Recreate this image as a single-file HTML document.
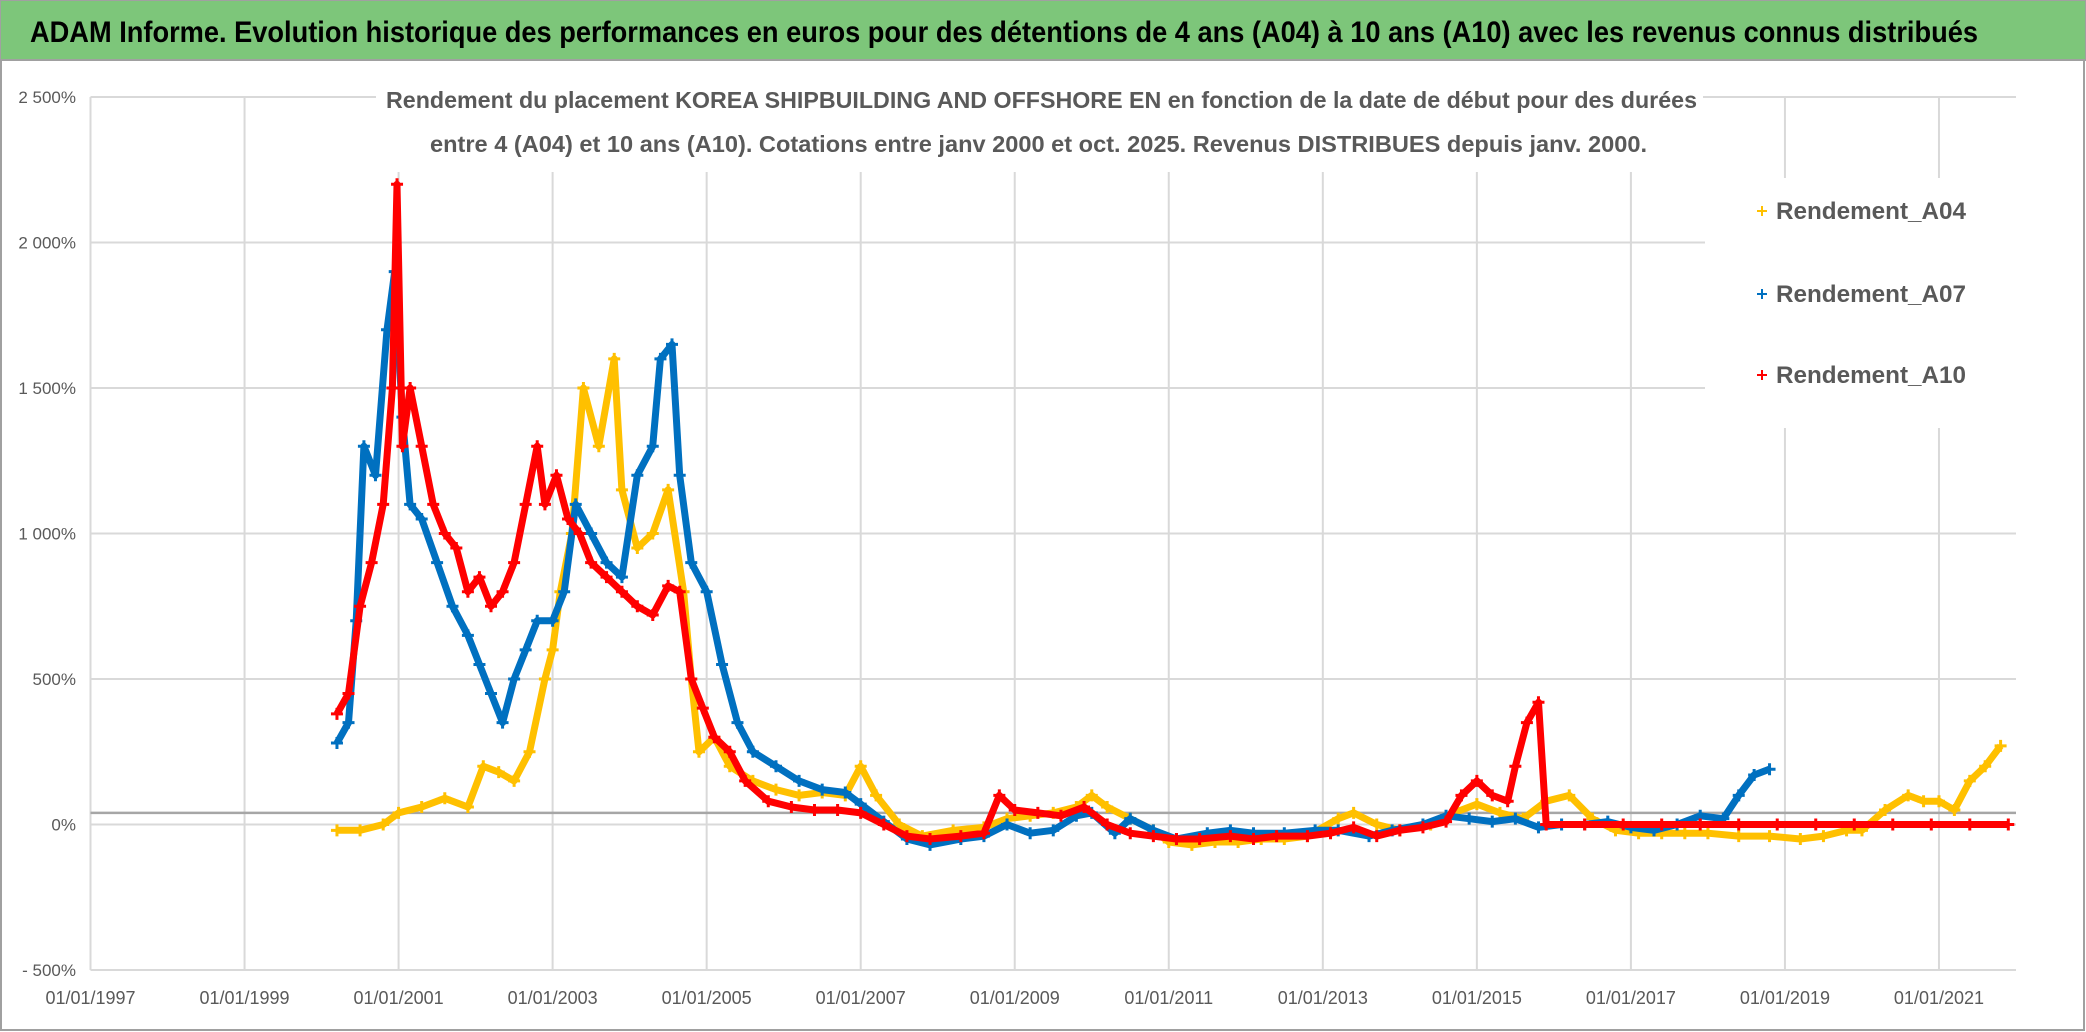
<!DOCTYPE html>
<html><head><meta charset="utf-8"><style>
html,body{margin:0;padding:0;background:#fff}
svg{display:block}
text{font-family:"Liberation Sans",sans-serif}
</style></head><body>
<svg id="chart" width="2086" height="1032" viewBox="0 0 2086 1032" xmlns="http://www.w3.org/2000/svg">
<rect x="0" y="0" width="2086" height="1032" fill="#fff"/>
<rect x="1" y="1" width="2083" height="1029" fill="none" stroke="#a0a0a0" stroke-width="2"/>
<rect x="0" y="0" width="2086" height="60" fill="#7dc67a" stroke="#a0a0a0" stroke-width="2"/>
<text x="30" y="42" font-size="30" font-weight="bold" fill="#000" textLength="1948" lengthAdjust="spacingAndGlyphs">ADAM Informe. Evolution historique des performances en euros pour des détentions de 4 ans (A04) à 10 ans (A10) avec les revenus connus distribués</text>
<g id="grid"></g>
<line id="zeroAxis" stroke="#a6a6a6" stroke-width="2.5"/>
<g id="ylabels"></g>
<g id="xlabels"></g>
<rect x="376" y="80" width="1327" height="92" fill="#fff"/>
<text x="386" y="108" font-size="23" font-weight="bold" fill="#595959" textLength="1311" lengthAdjust="spacingAndGlyphs">Rendement du placement KOREA SHIPBUILDING AND OFFSHORE EN en fonction de la date de début pour des durées</text>
<text x="430" y="152" font-size="23" font-weight="bold" fill="#595959" textLength="1217" lengthAdjust="spacingAndGlyphs">entre 4 (A04) et 10 ans (A10). Cotations entre janv 2000 et oct. 2025. Revenus DISTRIBUES depuis janv. 2000.</text>
<g id="series"></g>
<rect x="1705" y="178" width="311" height="250" fill="#fff"/>
<g id="legend"></g>
</svg>
<script>
const NS='http://www.w3.org/2000/svg';
const yTicks=[-500,0,500,1000,1500,2000,2500];
const yTickLabels=['- 500%','0%','500%','1 000%','1 500%','2 000%','2 500%'];
const xTicks=[1997,1999,2001,2003,2005,2007,2009,2011,2013,2015,2017,2019,2021];
const xTickLabels=['01/01/1997','01/01/1999','01/01/2001','01/01/2003','01/01/2005','01/01/2007','01/01/2009','01/01/2011','01/01/2013','01/01/2015','01/01/2017','01/01/2019','01/01/2021'];
const seriesNames=['Rendement_A04','Rendement_A07','Rendement_A10'];
const a04Dates=[2000.2,2000.5,2000.8,2001.0,2001.3,2001.6,2001.9,2002.1,2002.3,2002.5,2002.7,2002.9,2003.0,2003.1,2003.25,2003.4,2003.6,2003.8,2003.9,2004.1,2004.3,2004.5,2004.7,2004.8,2004.9,2005.1,2005.3,2005.6,2005.9,2006.2,2006.5,2006.8,2007.0,2007.2,2007.5,2007.8,2008.2,2008.6,2008.9,2009.2,2009.5,2009.8,2010.0,2010.2,2010.5,2010.8,2011.0,2011.3,2011.6,2011.9,2012.2,2012.5,2012.8,2013.2,2013.4,2013.7,2014.0,2014.4,2014.7,2015.0,2015.3,2015.6,2015.9,2016.2,2016.5,2016.8,2017.1,2017.4,2017.7,2018.0,2018.4,2018.8,2019.2,2019.5,2019.8,2020.0,2020.3,2020.6,2020.8,2021.0,2021.2,2021.4,2021.6,2021.8];
const a04Values=[-20,-20,0,40,60,90,60,200,180,150,250,500,600,800,1000,1500,1300,1600,1150,950,1000,1150,800,500,250,300,200,150,120,100,110,100,200,100,0,-40,-20,-10,20,30,40,60,100,60,20,-20,-60,-70,-60,-60,-50,-50,-40,20,40,0,-20,0,40,70,40,20,80,100,20,-20,-30,-30,-30,-30,-40,-40,-50,-40,-20,-20,50,100,80,80,50,150,200,270];
const a07Dates=[2000.2,2000.35,2000.45,2000.55,2000.7,2000.85,2000.95,2001.05,2001.15,2001.3,2001.5,2001.7,2001.9,2002.05,2002.2,2002.35,2002.5,2002.65,2002.8,2003.0,2003.15,2003.3,2003.5,2003.7,2003.9,2004.1,2004.3,2004.4,2004.55,2004.65,2004.8,2005.0,2005.2,2005.4,2005.6,2005.9,2006.2,2006.5,2006.8,2007.0,2007.3,2007.6,2007.9,2008.3,2008.6,2008.9,2009.2,2009.5,2009.8,2010.0,2010.3,2010.5,2010.8,2011.1,2011.5,2011.8,2012.1,2012.5,2012.9,2013.2,2013.6,2013.9,2014.3,2014.6,2014.9,2015.2,2015.5,2015.8,2016.1,2016.4,2016.7,2017.0,2017.3,2017.6,2017.9,2018.2,2018.4,2018.6,2018.8];
const a07Values=[280,350,700,1300,1200,1700,1900,1400,1100,1050,900,750,650,550,450,350,500,600,700,700,800,1100,1000,900,850,1200,1300,1600,1650,1200,900,800,550,350,250,200,150,120,110,70,10,-50,-70,-50,-40,0,-30,-20,30,40,-30,20,-20,-50,-30,-20,-30,-30,-20,-20,-40,-20,0,30,20,10,20,-10,0,0,10,-10,-20,0,30,20,100,170,190];
const a10Dates=[2000.2,2000.35,2000.5,2000.65,2000.8,2000.92,2000.98,2001.05,2001.15,2001.3,2001.45,2001.6,2001.75,2001.9,2002.05,2002.2,2002.35,2002.5,2002.65,2002.8,2002.9,2003.05,2003.2,2003.35,2003.5,2003.7,2003.9,2004.1,2004.3,2004.5,2004.65,2004.8,2004.95,2005.1,2005.3,2005.5,2005.8,2006.1,2006.4,2006.7,2007.0,2007.3,2007.6,2007.9,2008.3,2008.6,2008.8,2009.0,2009.3,2009.6,2009.9,2010.2,2010.5,2010.8,2011.1,2011.4,2011.8,2012.1,2012.4,2012.8,2013.1,2013.4,2013.7,2014.0,2014.3,2014.6,2014.8,2015.0,2015.2,2015.4,2015.5,2015.65,2015.8,2015.9,2016.4,2016.9,2017.4,2017.9,2018.4,2018.9,2019.4,2019.9,2020.4,2020.9,2021.4,2021.9];
const a10Values=[380,450,750,900,1100,1500,2200,1300,1500,1300,1100,1000,950,800,850,750,800,900,1100,1300,1100,1200,1050,1000,900,850,800,750,720,820,800,500,400,300,250,150,80,60,50,50,40,0,-40,-50,-40,-30,100,50,40,30,60,0,-30,-40,-50,-50,-40,-50,-40,-40,-30,-10,-40,-20,-10,10,100,150,100,80,200,350,420,0,0,0,0,0,0,0,0,0,0,0,0,0];
const colors=['#ffc000','#0070c0','#ff0000'];
const X0=90.5,X1=2016,Y0=970,Y1=97,xMin=1997,xMax=2022,vMin=-500,vMax=2500;
function xs(t){return X0+(t-xMin)/(xMax-xMin)*(X1-X0);}
function ys(v){return Y0-(v-vMin)/(vMax-vMin)*(Y0-Y1);}
function mk(tag,attrs){const e=document.createElementNS(NS,tag);for(const k in attrs)e.setAttribute(k,attrs[k]);return e;}
const grid=document.getElementById('grid');
yTicks.forEach((v,i)=>{
  const l=mk('line',{x1:X0,x2:X1,y1:ys(v),y2:ys(v),stroke:'#d9d9d9','stroke-width':2});
  
  
  grid.appendChild(l);
  const t=mk('text',{x:76,y:ys(v)+6,'font-size':17,fill:'#595959','text-anchor':'end'});
  t.textContent=yTickLabels[i];
  
  
  document.getElementById('ylabels').appendChild(t);
});
xTicks.forEach((v,i)=>{
  const l=mk('line',{x1:xs(v),x2:xs(v),y1:Y1,y2:Y0,stroke:'#d9d9d9','stroke-width':2});
  
  
  grid.appendChild(l);
  const t=mk('text',{x:xs(v),y:1004,'font-size':18,fill:'#595959','text-anchor':'middle'});
  t.textContent=xTickLabels[i];
  
  
  document.getElementById('xlabels').appendChild(t);
});
const za=document.getElementById('zeroAxis');
za.setAttribute('x1',X0);za.setAttribute('x2',X1);za.setAttribute('y1',ys(40));za.setAttribute('y2',ys(40));
const sg=document.getElementById('series');
const allDates=[a04Dates,a07Dates,a10Dates],allVals=[a04Values,a07Values,a10Values];
allDates.forEach((ds,si)=>{
  const vs=allVals[si];
  const g=mk('g',{});
  
  
  const pts=ds.map((d,i)=>xs(d).toFixed(1)+','+ys(vs[i]).toFixed(1)).join(' ');
  const pl=mk('polyline',{points:pts,fill:'none',stroke:colors[si],'stroke-width':7,'stroke-linejoin':'round'});
  
  
  g.appendChild(pl);
  ds.forEach((d,i)=>{
    const x=xs(d),y=ys(vs[i]);
    const p=mk('path',{d:`M${x-6},${y}H${x+6}M${x},${y-6}V${y+6}`,stroke:colors[si],'stroke-width':3});
    
    
    g.appendChild(p);
  });
  sg.appendChild(g);
});
const lg=document.getElementById('legend');
const legY=[219,302,383];
seriesNames.forEach((n,i)=>{
  const p=mk('path',{d:`M1757,${legY[i]-8}H1767M1762,${legY[i]-13}V${legY[i]-3}`,stroke:colors[i],'stroke-width':2});
  
  
  lg.appendChild(p);
  const t=mk('text',{x:1776,y:legY[i],'font-size':24,fill:'#595959','font-weight':'bold',textLength:190,lengthAdjust:'spacingAndGlyphs'});
  t.textContent=n;
  
  
  lg.appendChild(t);
});
</script>
</body></html>
